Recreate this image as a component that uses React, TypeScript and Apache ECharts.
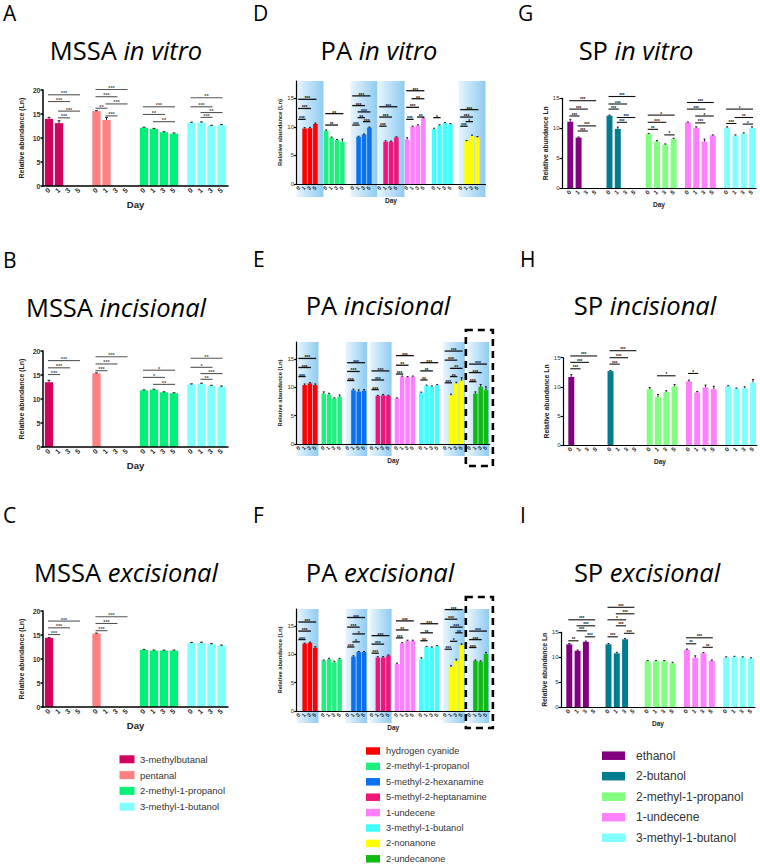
import React, { useEffect, useRef } from "react";
import * as echarts from "echarts";

const DAYS = ["0", "1", "3", "5"];

const MSSA_COMPOUNDS = ["3-methylbutanal", "pentanal", "2-methyl-1-propanol", "3-methyl-1-butanol"];
const MSSA_COLORS = ["#d1035f", "#ff8080", "#00f078", "#80ffff"];
const PA_COMPOUNDS = ["hydrogen cyanide", "2-methyl-1-propanol", "5-methyl-2-hexanamine", "5-methyl-2-heptanamine", "1-undecene", "3-methyl-1-butanol", "2-nonanone", "2-undecanone"];
const PA_COLORS = ["#ff0000", "#1ef07e", "#0a70f0", "#f0157a", "#ff80ff", "#40ffff", "#ffff00", "#10bb10"];
const SP_COMPOUNDS = ["ethanol", "2-butanol", "2-methyl-1-propanol", "1-undecene", "3-methyl-1-butanol"];
const SP_COLORS = ["#800080", "#017b8e", "#80ff80", "#ff80ff", "#80ffff"];

const MSSA_Y_TICKS = [0, 5, 10, 15, 20];
const PA_Y_TICKS = [0, 5, 10, 15];
const SP_Y_TICKS = [0, 5, 10, 15];

// ---- A: MSSA in vitro (rows = compounds, cols = days 0,1,3,5)
const A_VALUES = [[14.0, 13.1, 0, 0], [15.6, 13.75, 0, 0], [12.15, 11.9, 11.2, 10.9], [13.2, 13.25, 12.55, 12.7]];
const A_ERRORS = [[0.3, 0.5, 0, 0], [0.1, 0.55, 0, 0], [0.1, 0.1, 0.1, 0.15], [0.1, 0.1, 0.1, 0.1]];
const A_SIG = [
  [0, 0, 3, 19.0, "***"], [0, 0, 2, 17.6, "***"], [0, 1, 3, 15.6, "***"], [0, 1, 2, 14.2, "***"],
  [1, 0, 3, 20.1, "***"], [1, 0, 2, 18.6, "***"], [1, 1, 3, 17.1, "***"], [1, 0, 1, 16.2, "**"], [1, 1, 2, 14.6, "***"],
  [2, 0, 3, 16.5, "***"], [2, 0, 2, 14.9, "**"], [2, 1, 3, 13.4, "**"],
  [3, 0, 3, 18.4, "**"], [3, 0, 2, 16.5, "***"], [3, 1, 3, 15.3, "**"], [3, 1, 2, 14.3, "***"],
];
// ---- B: MSSA incisional
const B_VALUES = [[13.5, 0, 0, 0], [15.35, 0, 0, 0], [11.8, 11.95, 11.4, 11.2], [13.05, 13.2, 12.75, 12.6]];
const B_ERRORS = [[0.4, 0, 0, 0], [0.1, 0, 0, 0], [0.1, 0.1, 0.1, 0.1], [0.1, 0.1, 0.1, 0.1]];
const B_SIG = [
  [0, 0, 3, 18.0, "***"], [0, 0, 2, 16.5, "***"], [0, 0, 1, 15.1, "***"],
  [1, 0, 3, 18.8, "***"], [1, 0, 2, 17.3, "***"], [1, 0, 1, 15.9, "***"],
  [2, 0, 3, 16.0, "*"], [2, 0, 2, 14.5, "*"], [2, 1, 3, 13.05, "**"],
  [3, 0, 3, 18.5, "**"], [3, 0, 2, 16.6, "*"], [3, 1, 3, 15.3, "***"], [3, 1, 2, 14.1, "**"],
];
// ---- C: MSSA excisional
const C_VALUES = [[14.4, 0, 0, 0], [15.3, 0, 0, 0], [11.9, 11.75, 11.75, 11.75], [13.35, 13.35, 13.1, 12.8]];
const C_ERRORS = [[0.1, 0, 0, 0], [0.1, 0, 0, 0], [0.1, 0.1, 0.1, 0.1], [0.1, 0.15, 0.1, 0.1]];
const C_SIG = [
  [0, 0, 3, 17.9, "***"], [0, 0, 2, 16.5, "***"], [0, 0, 1, 15.1, "***"],
  [1, 0, 3, 18.8, "***"], [1, 0, 2, 17.4, "***"], [1, 0, 1, 15.9, "***"],
];
// ---- D: PA in vitro (no 2-undecanone)
const D_VALUES = [[0, 9.7, 9.75, 10.5], [9.3, 8.1, 7.7, 7.4], [0, 8.25, 8.65, 9.85], [0, 7.4, 7.4, 8.15], [7.8, 10.0, 10.25, 11.5], [9.6, 10.25, 10.65, 10.45], [0, 7.5, 8.4, 8.15]];
const D_ERRORS = [[0, 0.15, 0.15, 0.15], [0.15, 0.1, 0.1, 0.45], [0, 0.1, 0.1, 0.1], [0, 0.15, 0.1, 0.1], [0.3, 0.1, 0.1, 0.1], [0.15, 0.1, 0.1, 0.1], [0, 0.1, 0.15, 0.15]];
const D_SIG = [
  [0, 0, 3, 14.8, "***"], [0, 0, 2, 13.2, "***"], [0, 0, 1, 11.3, "***"],
  [1, 0, 3, 12.3, "**"], [1, 0, 2, 10.3, "**"],
  [2, 0, 3, 15.4, "***"], [2, 0, 2, 13.7, "***"], [2, 1, 3, 12.6, "***"], [2, 1, 2, 11.6, "**"], [2, 0, 1, 10.3, "***"], [2, 2, 3, 10.9, "***"],
  [3, 0, 3, 13.5, "***"], [3, 0, 2, 11.7, "***"], [3, 0, 1, 10.1, "***"],
  [4, 0, 3, 16.3, "***"], [4, 1, 3, 14.9, "**"], [4, 0, 2, 13.4, "***"], [4, 2, 3, 11.7, "**"], [4, 0, 1, 11.3, "***"],
  [5, 0, 1, 11.6, "*"],
  [6, 0, 3, 13.0, "***"], [6, 0, 2, 11.7, "***"], [6, 0, 1, 10.1, "***"], [6, 1, 2, 10.9, "*"],
];
const D_BOXES = [0, 2, 3, 6];
// ---- E: PA incisional
const E_VALUES = [[0, 10.4, 10.7, 10.4], [8.9, 8.75, 8.05, 8.35], [0, 9.5, 9.25, 9.4], [0, 8.5, 8.6, 8.5], [8.05, 11.9, 11.8, 11.9], [9.05, 10.3, 10.15, 10.4], [0, 8.6, 10.7, 11.2], [0, 8.9, 10.1, 9.5]];
const E_ERRORS = [[0, 0.2, 0.15, 0.2], [0.3, 0.2, 0.1, 0.3], [0, 0.2, 0.3, 0.2], [0, 0.1, 0.15, 0.1], [0.1, 0.1, 0.1, 0.1], [0.1, 0.1, 0.1, 0.1], [0, 0.2, 0.2, 0.5], [0, 0.3, 0.4, 0.6]];
const E_SIG = [
  [0, 0, 3, 15.1, "***"], [0, 0, 2, 13.5, "***"], [0, 0, 1, 11.9, "***"],
  [2, 0, 3, 14.35, "***"], [2, 0, 2, 12.8, "***"], [2, 0, 1, 11.2, "***"],
  [3, 0, 3, 12.9, "***"], [3, 0, 2, 11.3, "***"], [3, 0, 1, 9.6, "***"],
  [4, 0, 3, 15.6, "***"], [4, 0, 2, 13.9, "**"], [4, 0, 1, 12.35, "***"],
  [5, 0, 3, 14.35, "***"], [5, 0, 2, 12.9, "**"], [5, 0, 1, 11.3, "**"],
  [6, 0, 3, 16.4, "***"], [6, 0, 2, 14.8, "***"], [6, 1, 3, 13.35, "**"], [6, 1, 2, 11.9, "**"], [6, 0, 1, 10.8, "***"],
  [7, 0, 3, 14.1, "***"], [7, 0, 2, 12.6, "***"], [7, 0, 1, 11.0, "***"],
];
const E_BOXES = [0, 2, 3, 6, 7];
// ---- F: PA excisional
const F_VALUES = [[0, 11.9, 12.05, 11.15], [8.9, 9.15, 8.6, 9.15], [0, 9.6, 10.4, 10.4], [0, 9.45, 9.45, 9.8], [8.3, 11.95, 12.4, 12.4], [9.2, 11.3, 11.2, 11.45], [0, 7.8, 8.85, 11.65], [0, 8.85, 8.7, 10.05]];
const F_ERRORS = [[0, 0.1, 0.1, 0.2], [0.1, 0.15, 0.2, 0.15], [0, 0.15, 0.1, 0.1], [0, 0.15, 0.15, 0.1], [0.15, 0.1, 0.1, 0.1], [0.2, 0.1, 0.1, 0.1], [0, 0.2, 0.3, 0.2], [0, 0.15, 0.15, 0.3]];
const F_SIG = [
  [0, 0, 3, 15.7, "***"], [0, 0, 2, 14.1, "***"], [0, 0, 1, 12.6, "***"],
  [2, 0, 3, 16.5, "***"], [2, 0, 2, 14.8, "***"], [2, 1, 3, 13.6, "*"], [2, 1, 2, 12.2, "*"], [2, 0, 1, 11.3, "***"],
  [3, 0, 3, 13.3, "***"], [3, 0, 2, 11.8, "***"], [3, 0, 1, 10.2, "***"],
  [4, 0, 3, 15.9, "***"], [4, 0, 2, 14.3, "**"], [4, 0, 1, 12.9, "***"],
  [5, 0, 3, 15.4, "***"], [5, 0, 2, 13.8, "**"], [5, 0, 1, 12.4, "**"],
  [6, 0, 3, 17.9, "***"], [6, 0, 2, 16.2, "***"], [6, 1, 3, 14.8, "***"], [6, 2, 3, 13.8, "**"], [6, 1, 2, 12.3, "*"], [6, 0, 1, 10.9, "***"],
  [7, 0, 3, 14.1, "***"], [7, 0, 2, 12.6, "***"], [7, 0, 1, 11.2, "***"],
];
const F_BOXES = [0, 2, 3, 6, 7];
// ---- G: SP in vitro
const G_VALUES = [[11.1, 8.45, 0, 0], [12.1, 9.9, 0, 0], [9.05, 7.8, 7.3, 8.2], [11.0, 10.1, 7.8, 8.8], [10.1, 8.8, 9.15, 10.1]];
const G_ERRORS = [[0.4, 0.1, 0, 0], [0.1, 0.3, 0, 0], [0.1, 0.15, 0.1, 0.15], [0.05, 0.15, 0.4, 0.1], [0.15, 0.1, 0.1, 0.15]];
const G_SIG = [
  [0, 0, 3, 14.6, "***"], [0, 0, 2, 13.2, "***"], [0, 0, 1, 12.05, "***"], [0, 1, 3, 10.4, "***"], [0, 1, 2, 9.55, "***"],
  [1, 0, 3, 15.3, "***"], [1, 0, 2, 14.05, "***"], [1, 0, 1, 13.2, "***"], [1, 1, 3, 11.8, "***"], [1, 1, 2, 11.0, "***"],
  [2, 0, 3, 12.2, "*"], [2, 0, 2, 11.0, "***"], [2, 0, 1, 9.83, "**"], [2, 2, 3, 8.9, "*"],
  [3, 0, 3, 14.3, "***"], [3, 0, 2, 13.2, "***"], [3, 1, 3, 12.05, "*"], [3, 1, 2, 10.9, "***"],
  [4, 0, 3, 13.2, "*"], [4, 1, 3, 11.8, "**"], [4, 0, 1, 10.8, "***"], [4, 2, 3, 10.7, "*"],
];
// ---- H: SP incisional
const H_VALUES = [[11.7, 0, 0, 0], [12.7, 0, 0, 0], [9.6, 8.3, 9.15, 10.1], [10.95, 9.05, 9.9, 9.6], [10.1, 9.7, 9.8, 10.75]];
const H_ERRORS = [[0.4, 0, 0, 0], [0.1, 0, 0, 0], [0.3, 0.4, 0.2, 0.3], [0.2, 0.15, 0.4, 0.5], [0.1, 0.1, 0.2, 0.5]];
const H_SIG = [
  [0, 0, 3, 15.3, "***"], [0, 0, 2, 14.2, "***"], [0, 0, 1, 13.1, "***"],
  [1, 0, 3, 16.2, "***"], [1, 0, 2, 15.0, "***"], [1, 0, 1, 13.9, "***"],
  [2, 1, 3, 11.9, "*"], [3, 0, 1, 12.3, "*"],
];
// ---- I: SP excisional
const I_VALUES = [[12.6, 11.3, 13.1, 0], [12.6, 10.8, 13.6, 0], [9.25, 9.25, 9.25, 8.8], [11.5, 9.9, 10.8, 9.3], [10.0, 10.1, 10.0, 9.8]];
const I_ERRORS = [[0.15, 0.15, 0.15, 0], [0.15, 0.2, 0.15, 0], [0.1, 0.1, 0.1, 0.2], [0.15, 0.4, 0.15, 0.15], [0.1, 0.1, 0.1, 0.1]];
const I_SIG = [
  [0, 0, 3, 17.5, "***"], [0, 1, 3, 16.3, "***"], [0, 1, 2, 15.3, "***"], [0, 2, 3, 14.1, "***"], [0, 0, 1, 13.3, "**"],
  [1, 0, 3, 20.0, "***"], [1, 1, 3, 18.7, "***"], [1, 0, 2, 17.5, "*"], [1, 1, 2, 16.3, "***"], [1, 2, 3, 14.8, "***"], [1, 0, 1, 14.1, "***"],
  [3, 0, 3, 13.9, "***"], [3, 0, 1, 12.7, "**"], [3, 2, 3, 12.0, "**"],
];

const SANS = "'Liberation Sans', Arial, sans-serif";
const TITLE_FONT = "'Open Sans', 'Noto Sans', sans-serif";

const MSSA_STYLE = { tickFont: 7, tickBold: true, xFont: 7, dayFont: 9.5, yNameFont: 7, yNameGap: 18, sigColor: "#555", sigFont: 5.5, sigLine: 1.1, axisW: 1.5 };
const PA_STYLE = { tickFont: 6, tickBold: false, xFont: 5.5, dayFont: 6.5, yNameFont: 5.8, yNameGap: 14, sigColor: "#111", sigFont: 5, sigLine: 1.3, axisW: 1.2 };
const SP_STYLE = { tickFont: 6, tickBold: false, xFont: 6, dayFont: 6.5, yNameFont: 6.8, yNameGap: 12, sigColor: "#111", sigFont: 4.6, sigLine: 1.1, axisW: 1.2 };

type Panel = {
  letter: string; letterX: number; letterY: number;
  strain: string; model: string; titleX: number; titleY: number;
  left: number; top: number; width: number; height: number;
  yMax: number; yTicks: number[]; yName: string;
  xMax: number; offset: number; gap: number; barFrac: number;
  colors: string[]; values: number[][]; errors: number[][]; sig: any[];
  boxes: number[]; boxWidth: number; boxBelow: number;
  dashed: number; dashedBelow: number; style: any;
};

const MSSA_X = { left: 43, width: 185, xMax: 18.5, offset: 0.6, gap: 0.75, barFrac: 0.83 };
const PA_D_X = { left: 296.5, width: 189, xMax: 35, offset: 0.5, gap: 1, barFrac: 0.85 };
const PA_EF_X = { left: 296.7, width: 193, xMax: 36.4, offset: 0.5, gap: 0.6, barFrac: 0.85 };
const SP_X = { left: 562, width: 194, xMax: 23.4, offset: 1.0, gap: 0.73, barFrac: 0.72 };

const MSSA_NAME = "Relative abundance (Ln)";
const SP_NAME = "Relative abundance Ln";

const PANELS: Panel[] = [
  { letter: "A", letterX: 3, letterY: 14, strain: "MSSA ", model: "in vitro", titleX: 126, titleY: 50, ...MSSA_X, top: 90, height: 96, yMax: 20, yTicks: MSSA_Y_TICKS, yName: MSSA_NAME, colors: MSSA_COLORS, values: A_VALUES, errors: A_ERRORS, sig: A_SIG, boxes: [], boxWidth: 0, boxBelow: 0, dashed: -1, dashedBelow: 0, style: MSSA_STYLE },
  { letter: "B", letterX: 3, letterY: 261, strain: "MSSA ", model: "incisional", titleX: 116, titleY: 307, ...MSSA_X, top: 351, height: 96, yMax: 20, yTicks: MSSA_Y_TICKS, yName: MSSA_NAME, colors: MSSA_COLORS, values: B_VALUES, errors: B_ERRORS, sig: B_SIG, boxes: [], boxWidth: 0, boxBelow: 0, dashed: -1, dashedBelow: 0, style: MSSA_STYLE },
  { letter: "C", letterX: 3, letterY: 516, strain: "MSSA ", model: "excisional", titleX: 126, titleY: 572, ...MSSA_X, top: 611, height: 96, yMax: 20, yTicks: MSSA_Y_TICKS, yName: MSSA_NAME, colors: MSSA_COLORS, values: C_VALUES, errors: C_ERRORS, sig: C_SIG, boxes: [], boxWidth: 0, boxBelow: 0, dashed: -1, dashedBelow: 0, style: MSSA_STYLE },
  { letter: "D", letterX: 253, letterY: 14, strain: "PA ", model: "in vitro", titleX: 379, titleY: 50, ...PA_D_X, top: 81, height: 103, yMax: 18, yTicks: PA_Y_TICKS, yName: MSSA_NAME, colors: PA_COLORS, values: D_VALUES, errors: D_ERRORS, sig: D_SIG, boxes: D_BOXES, boxWidth: 5, boxBelow: 13, dashed: -1, dashedBelow: 0, style: PA_STYLE },
  { letter: "E", letterX: 253, letterY: 260, strain: "PA ", model: "incisional", titleX: 378, titleY: 305, ...PA_EF_X, top: 342, height: 102, yMax: 18, yTicks: PA_Y_TICKS, yName: MSSA_NAME, colors: PA_COLORS, values: E_VALUES, errors: E_ERRORS, sig: E_SIG, boxes: E_BOXES, boxWidth: 4.1, boxBelow: 12, dashed: 7, dashedBelow: 22, style: PA_STYLE },
  { letter: "F", letterX: 253, letterY: 516, strain: "PA ", model: "excisional", titleX: 380, titleY: 572, ...PA_EF_X, top: 609, height: 102, yMax: 18, yTicks: PA_Y_TICKS, yName: MSSA_NAME, colors: PA_COLORS, values: F_VALUES, errors: F_ERRORS, sig: F_SIG, boxes: F_BOXES, boxWidth: 4.1, boxBelow: 12, dashed: 7, dashedBelow: 17, style: PA_STYLE },
  { letter: "G", letterX: 518, letterY: 14, strain: "SP ", model: "in vitro", titleX: 636, titleY: 50, ...SP_X, top: 98.3, height: 90, yMax: 15, yTicks: SP_Y_TICKS, yName: SP_NAME, colors: SP_COLORS, values: G_VALUES, errors: G_ERRORS, sig: G_SIG, boxes: [], boxWidth: 0, boxBelow: 0, dashed: -1, dashedBelow: 0, style: SP_STYLE },
  { letter: "H", letterX: 520, letterY: 260, strain: "SP ", model: "incisional", titleX: 645, titleY: 305, ...SP_X, left: 563, top: 357.7, height: 87.5, yMax: 15, yTicks: SP_Y_TICKS, yName: SP_NAME, colors: SP_COLORS, values: H_VALUES, errors: H_ERRORS, sig: H_SIG, boxes: [], boxWidth: 0, boxBelow: 0, dashed: -1, dashedBelow: 0, style: SP_STYLE },
  { letter: "I", letterX: 520, letterY: 516, strain: "SP ", model: "excisional", titleX: 647, titleY: 572, ...SP_X, left: 561, top: 632.3, height: 75, yMax: 15, yTicks: SP_Y_TICKS, yName: SP_NAME, colors: SP_COLORS, values: I_VALUES, errors: I_ERRORS, sig: I_SIG, boxes: [], boxWidth: 0, boxBelow: 0, dashed: -1, dashedBelow: 0, style: SP_STYLE },
];

const LEGENDS = [
  { names: MSSA_COMPOUNDS, colors: MSSA_COLORS, x: 119.5, y0: 759.3, dy: 15.8, w: 15, h: 8, tx: 140, font: 9.5 },
  { names: PA_COMPOUNDS, colors: PA_COLORS, x: 366, y0: 751, dy: 15.4, w: 14, h: 7.5, tx: 386, font: 9.3 },
  { names: SP_COMPOUNDS, colors: SP_COLORS, x: 602, y0: 755.7, dy: 20.5, w: 23, h: 8.5, tx: 636, font: 12 },
];

function buildOption() {
  const grid: any[] = [];
  const xAxis: any[] = [];
  const yAxis: any[] = [];
  const series: any[] = [];
  const graphic: any[] = [];

  PANELS.forEach((p, k) => {
    const st = p.style;
    const pitch = 4 + p.gap;
    const center = (g: number, i: number) => p.offset + g * pitch + i;
    const centers: number[] = [];
    p.values.forEach((grp, g) => grp.forEach((_, i) => centers.push(center(g, i))));
    const dayOf = (v: number) => {
      let best = 0;
      centers.forEach((c, idx) => { if (Math.abs(c - v) < Math.abs(centers[best] - v)) best = idx; });
      return DAYS[best % 4];
    };

    grid.push({ left: p.left, top: p.top, width: p.width, height: p.height, containLabel: false });
    xAxis.push({
      type: "value", gridIndex: k, min: 0, max: p.xMax, z: 6,
      name: "Day", nameLocation: "middle", nameGap: 13,
      nameTextStyle: { fontFamily: SANS, fontWeight: "bold", fontSize: st.dayFont, color: "#222" },
      axisLine: { show: true, onZero: false, lineStyle: { color: "#000", width: st.axisW } },
      axisTick: { show: false },
      splitLine: { show: false },
      axisLabel: {
        customValues: centers, formatter: (v: number) => dayOf(v), rotate: 45, margin: 3,
        fontFamily: SANS, fontSize: st.xFont, fontWeight: "bold", color: "#222",
      },
    });
    yAxis.push({
      type: "value", gridIndex: k, min: 0, max: p.yMax, z: 6,
      name: p.yName, nameLocation: "middle", nameGap: st.yNameGap, nameRotate: 90,
      nameTextStyle: { fontFamily: SANS, fontWeight: "bold", fontSize: st.yNameFont, color: "#222" },
      axisLine: { show: true, lineStyle: { color: "#000", width: st.axisW } },
      axisTick: { show: true, length: 2.5, customValues: p.yTicks, lineStyle: { color: "#000", width: st.axisW } },
      splitLine: { show: false },
      axisLabel: {
        customValues: p.yTicks, margin: 2.5, fontFamily: SANS, fontSize: st.tickFont,
        fontWeight: st.tickBold ? "bold" : "normal", color: "#333",
      },
    });

    // highlight boxes (compounds produced by the bacteria)
    if (p.boxes.length) {
      series.push({
        type: "custom", xAxisIndex: k, yAxisIndex: k, z: 1, silent: true,
        encode: { x: [0, 1], y: 2 },
        data: p.boxes.map((g) => [g * pitch, g * pitch + p.boxWidth, p.yMax]),
        renderItem: (params: any, api: any) => {
          const a = api.coord([api.value(0), api.value(2)]);
          const b = api.coord([api.value(1), 0]);
          return {
            type: "rect",
            shape: { x: a[0], y: a[1], width: b[0] - a[0], height: b[1] - a[1] + p.boxBelow },
            style: {
              fill: new echarts.graphic.LinearGradient(0, 0, 1, 0, [
                { offset: 0, color: "#e8f5fd" },
                { offset: 1, color: "#8ecbf1" },
              ]),
            },
          };
        },
      });
    }
    if (p.dashed >= 0) {
      series.push({
        type: "custom", xAxisIndex: k, yAxisIndex: k, z: 4, silent: true,
        encode: { x: [0, 1], y: 2 },
        data: [[p.dashed * pitch - 0.3, p.xMax + 0.6, p.yMax]],
        renderItem: (params: any, api: any) => {
          const a = api.coord([api.value(0), api.value(2)]);
          const b = api.coord([api.value(1), 0]);
          return {
            type: "rect",
            shape: { x: a[0], y: a[1] - 12, width: b[0] - a[0], height: b[1] - a[1] + 12 + p.dashedBelow },
            style: { fill: "none", stroke: "#000", lineWidth: 2.6, lineDash: [7, 5] },
          };
        },
      });
    }

    // bars with error bars
    const barData: number[][] = [];
    p.values.forEach((grp, g) => grp.forEach((v, i) => barData.push([center(g, i), v, p.errors[g][i], g])));
    series.push({
      type: "custom", xAxisIndex: k, yAxisIndex: k, z: 3, silent: true,
      encode: { x: 0, y: 1 },
      data: barData,
      renderItem: (params: any, api: any) => {
        const x = api.value(0), v = api.value(1), e = api.value(2), g = api.value(3);
        const children: any[] = [];
        if (v > 0) {
          const top = api.coord([x, v]);
          const base = api.coord([x, 0]);
          const w = api.size([p.barFrac, 0])[0];
          children.push({ type: "rect", shape: { x: top[0] - w / 2, y: top[1], width: w, height: base[1] - top[1] }, style: { fill: p.colors[g] } });
          if (e > 0) {
            const et = api.coord([x, v + e]);
            const cw = Math.max(2, w * 0.35);
            children.push({ type: "line", shape: { x1: top[0], y1: top[1], x2: et[0], y2: et[1] }, style: { stroke: "#111", lineWidth: 0.9 } });
            children.push({ type: "line", shape: { x1: et[0] - cw / 2, y1: et[1], x2: et[0] + cw / 2, y2: et[1] }, style: { stroke: "#111", lineWidth: 0.9 } });
          }
        }
        return { type: "group", children };
      },
    });

    // significance lines
    series.push({
      type: "custom", xAxisIndex: k, yAxisIndex: k, z: 5, silent: true,
      encode: { x: [0, 2], y: 1 },
      data: p.sig.map((s: any[]) => [center(s[0], s[1]), s[3], center(s[0], s[2])]),
      renderItem: (params: any, api: any) => {
        const a = api.coord([api.value(0), api.value(1)]);
        const b = api.coord([api.value(2), api.value(1)]);
        const label = p.sig[params.dataIndex][4];
        return {
          type: "group",
          children: [
            { type: "line", shape: { x1: a[0] - 1, y1: a[1], x2: b[0] + 1, y2: b[1] }, style: { stroke: st.sigColor, lineWidth: st.sigLine } },
            { type: "text", x: (a[0] + b[0]) / 2, y: a[1] + 1.5, style: { text: label, align: "center", verticalAlign: "bottom", fontSize: st.sigFont, fontFamily: SANS, fontWeight: "bold", fill: st.sigColor, stroke: null } },
          ],
        };
      },
    });

    // panel letter and title
    graphic.push({ type: "text", left: p.letterX, top: p.letterY - 12, style: { text: p.letter, fontSize: 21, fontFamily: TITLE_FONT, fill: "#000" } });
    graphic.push({
      type: "text", x: p.titleX, y: p.titleY,
      style: {
        text: `{n|${p.strain}}{i|${p.model}}`, align: "center", verticalAlign: "middle",
        rich: {
          n: { fontSize: 25.5, fontFamily: TITLE_FONT, fill: "#000" },
          i: { fontSize: 25.5, fontFamily: TITLE_FONT, fontStyle: "italic", fill: "#000" },
        },
      },
    });
  });

  LEGENDS.forEach((L) => {
    L.names.forEach((name, i) => {
      const cy = L.y0 + i * L.dy;
      graphic.push({ type: "rect", shape: { x: L.x, y: cy - L.h / 2, width: L.w, height: L.h }, style: { fill: L.colors[i] } });
      graphic.push({ type: "text", x: L.tx, y: cy, style: { text: name, fontSize: L.font, fontFamily: SANS, fill: "#333", verticalAlign: "middle" } });
    });
  });

  return { animation: false, backgroundColor: "#ffffff", grid, xAxis, yAxis, series, graphic };
}

export default function App() {
  const ref = useRef<HTMLDivElement>(null);
  useEffect(() => {
    document.body.style.margin = "0";
    if (!ref.current) return;
    const chart = echarts.init(ref.current, null, { renderer: "svg" });
    chart.setOption(buildOption() as any);
    return () => chart.dispose();
  }, []);
  return <div ref={ref} style={{ width: 760, height: 865 }} />;
}
